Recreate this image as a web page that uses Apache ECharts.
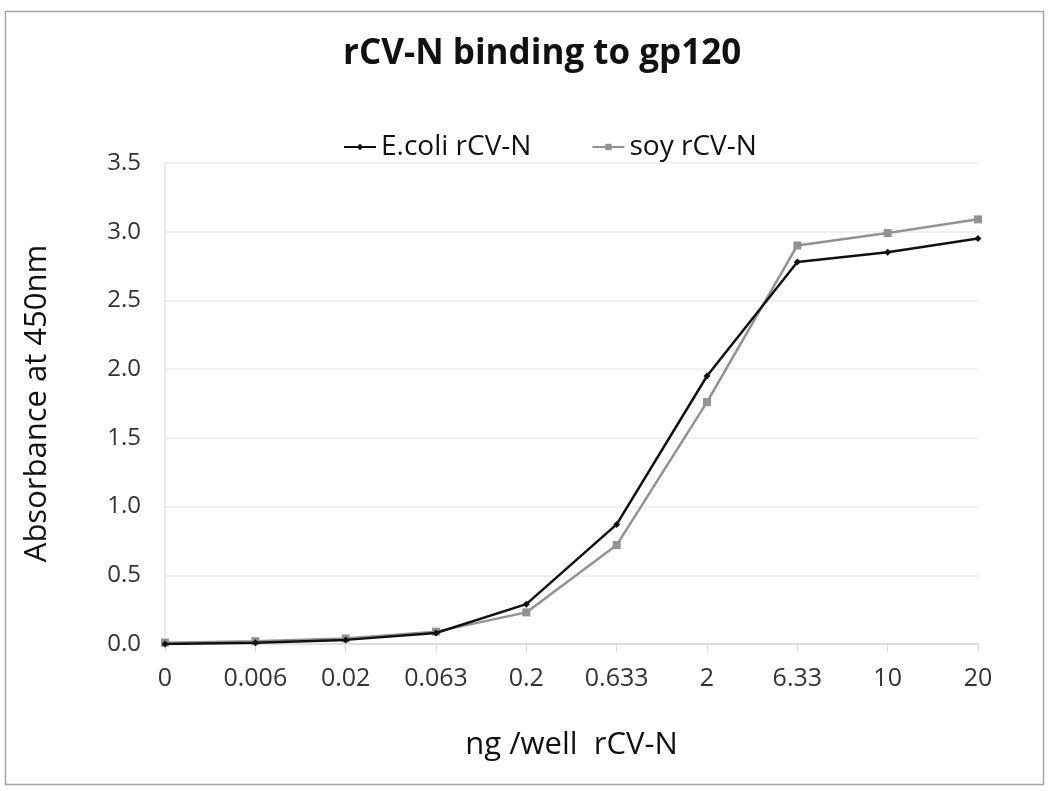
<!DOCTYPE html>
<html><head><meta charset="utf-8">
<script src="https://cdn.jsdelivr.net/npm/echarts@6/dist/echarts.min.js"></script>
<style>html,body{margin:0;padding:0;background:#fff}#c{width:1050px;height:791px}</style>
</head><body><div id="c"></div>
<script>
const categories = ['0','0.006','0.02','0.063','0.2','0.633','2','6.33','10','20'];
const ecoli = [0.00, 0.01, 0.03, 0.08, 0.29, 0.87, 1.95, 2.78, 2.85, 2.95];
const soy = [0.01, 0.02, 0.04, 0.09, 0.23, 0.72, 1.76, 2.90, 2.99, 3.09];
const yTicks = ['0.0','0.5','1.0','1.5','2.0','2.5','3.0','3.5'];

const FONT = 'Open Sans';
const chart = echarts.init(document.getElementById('c'));
chart.setOption({
  animation: false,
  textStyle: {fontFamily: FONT},
  graphic: [{type:'rect', shape:{x:5.5,y:11.5,width:1038,height:773}, style:{fill:'none', stroke:'#a6a6a6', lineWidth:1.5}, silent:true}],
  title: {text:'rCV-N binding to gp120', left:338, top:32, textStyle:{fontFamily:FONT, fontWeight:'bold', fontSize:35, color:'#111'}},
  legend: {top:128, left:338, itemGap:60, itemWidth:32, itemHeight:8,
    textStyle:{fontFamily:FONT, fontSize:28, color:'#111'},
    data:[{name:'E.coli rCV-N'},{name:'soy rCV-N'}]},
  grid: {left:165, right:72, top:163, bottom:147},
  xAxis: {type:'category', data:categories, boundaryGap:false,
    name:'ng /well  rCV-N', nameLocation:'middle', nameGap:86,
    nameTextStyle:{fontFamily:FONT, fontSize:31, color:'#111'},
    axisLine:{lineStyle:{color:'#d9d9d9', width:1.5}},
    axisTick:{show:true, alignWithLabel:true, length:8, lineStyle:{color:'#d9d9d9'}},
    axisLabel:{fontFamily:FONT, fontSize:25, color:'#333', margin:22},
    splitLine:{show:false}},
  yAxis: {type:'value', min:0, max:3.5, interval:0.5,
    name:'Absorbance at 450nm', nameLocation:'middle', nameGap:112, nameRotate:90,
    nameTextStyle:{fontFamily:FONT, fontSize:31, color:'#111'},
    axisLine:{show:true, lineStyle:{color:'#e3e3e3', width:1.5}},
    axisTick:{show:false},
    axisLabel:{fontFamily:FONT, fontSize:24, color:'#333', margin:24, formatter:(v)=>yTicks[Math.round(v/0.5)]},
    splitLine:{lineStyle:{color:'#ebebeb', width:1.5}}},
  series: [
    {name:'E.coli rCV-N', type:'line', data:ecoli, symbol:'diamond', symbolSize:7,
     lineStyle:{color:'#111', width:2.5}, itemStyle:{color:'#111'}, z:3},
    {name:'soy rCV-N', type:'line', data:soy, symbol:'rect', symbolSize:8,
     lineStyle:{color:'#929292', width:2.5}, itemStyle:{color:'#929292'}, z:2}
  ]
});
</script></body></html>
